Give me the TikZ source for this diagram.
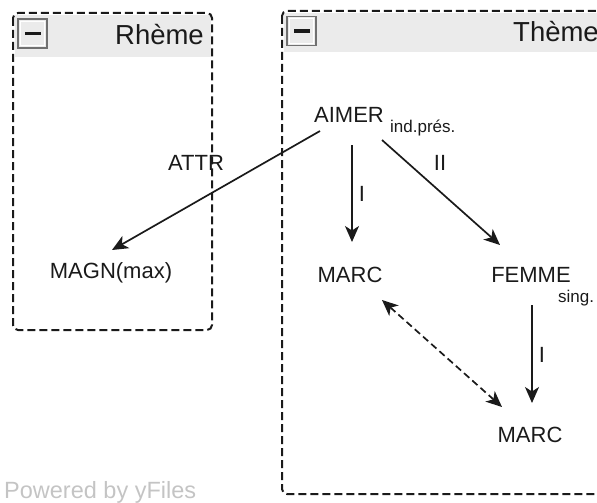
\documentclass[tikz,border=0pt]{standalone}
\usepackage{fontspec}
\setmainfont{Liberation Sans}
\usetikzlibrary{arrows.meta,calc}
\definecolor{txt}{HTML}{1A1A1A}
\definecolor{band}{HTML}{EBEBEB}
\definecolor{boxedge}{HTML}{707070}
\definecolor{wm}{HTML}{C4C4C4}
\begin{document}
\begin{tikzpicture}[x=1pt,y=-1pt,
  lbl/.style={font=\fontsize{22}{24}\selectfont, text=txt, inner sep=0pt,
              text height=15.75pt, text depth=0pt},
  sub/.style={font=\fontsize{17}{19}\selectfont, text=txt, inner sep=0pt, anchor=base west},
  head/.style={font=\fontsize{27.5}{30}\selectfont, text=txt, inner sep=0pt},
  grp/.style={draw=txt, line width=2pt, dash pattern=on 8pt off 4pt, rounded corners=5pt},
  tip/.style={},
  edge/.style={draw=txt, line width=1.7pt, -{Stealth[length=16pt,width=14pt,inset=4.5pt]}},
  link/.style={draw=txt, line width=1.7pt, dash pattern=on 7pt off 4pt,
               {Stealth[length=16pt,width=14pt,inset=4.5pt]}-{Stealth[length=16pt,width=14pt,inset=4.5pt]}},
  minusbox/.style={minimum size=29pt, inner sep=0pt, draw=boxedge, line width=1.2pt, fill=band,
    path picture={
      \draw[white, line width=1pt]
        ($(path picture bounding box.south west)+(2.2,-2.2)$) rectangle
        ($(path picture bounding box.north east)+(-2.2,2.2)$);
      \fill[txt] ($(path picture bounding box.center)+(-8,-1.6)$) rectangle ++(16,3.2);
    }},
  wmark/.style={font=\fontsize{23.5}{26}\selectfont, text=wm, inner sep=0pt, anchor=base west}
]
\useasboundingbox (0,0) rectangle (597,503);
\clip (0,0) rectangle (597,503);

% group "Rhème"
\fill[band] (15,15) rectangle (211,57);
\draw[grp] (13,13) rectangle (212,330);
\node[minusbox] (rmin) at (32.5,33.5) {};
\node[head, anchor=base east] (rtitle) at (204,45) {Rhème};

% group "Thème" (runs past the right edge)
\fill[band] (284,13) rectangle (600,52);
\draw[grp] (282,11) rectangle (640,494);
\node[minusbox] (tmin) at (301.5,31) {};
\node[head, anchor=base west] (ttitle) at (513,42) {Thème};

% nodes
\node[lbl] (aimer) at (349,115) {AIMER};
\node[sub] (aimersub) at (390,132) {ind.prés.};
\node[lbl] (magn) at (111,271) {MAGN(max)};
\node[lbl] (marc1) at (350,275) {MARC};
\node[lbl] (femme) at (531,275) {FEMME};
\node[sub] (femmesub) at (558,302) {sing.};
\node[lbl] (marc2) at (530,435) {MARC};

% connectors
\draw[edge] ($(aimer)+(-29,16)$) -- ($(magn)+(1,-21)$);
\draw[edge] ($(aimer)+(3,30)$) -- ($(marc1)+(2,-33)$);
\draw[edge] ($(aimer)+(33,25)$) -- ($(femme)+(-31,-30)$);
\draw[edge] ($(femme)+(1,30)$) -- ($(marc2)+(2,-32)$);
\draw[link] ($(marc1)+(32,25)$) -- ($(marc2)+(-28,-28)$);

% connector labels
\node[lbl] (lattr) at (196,163) {ATTR};
\node[lbl] (li1) at (362,194) {I};
\node[lbl] (lii) at (440,163) {II};
\node[lbl] (li2) at (542,355) {I};

\node[wmark] (powered) at (4,498) {Powered by yFiles};
\end{tikzpicture}
\end{document}
